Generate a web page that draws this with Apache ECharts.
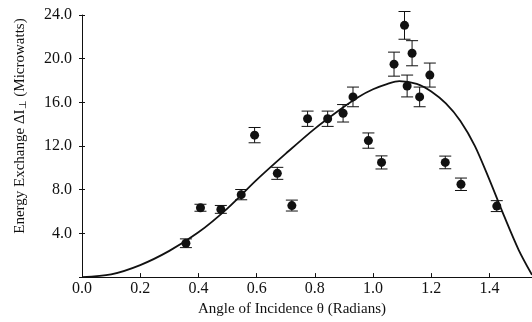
<!DOCTYPE html>
<html>
<head>
<meta charset="utf-8">
<script src="https://cdn.jsdelivr.net/npm/echarts@6/dist/echarts.min.js"></script>
<style>
html,body{margin:0;padding:0;background:#fff;}
#chart{width:532px;height:322px;}
</style>
</head>
<body>
<div id="chart"></div>
<script>
// Measured data points (angle in radians, energy exchange in microwatts, error half-width)
const angles = [0.357,0.407,0.477,0.547,0.593,0.671,0.721,0.775,0.844,0.897,0.931,0.984,1.029,1.072,1.108,1.117,1.134,1.160,1.195,1.248,1.302,1.425];
const values = [3.1,6.35,6.2,7.55,13.0,9.5,6.55,14.5,14.5,15.0,16.5,12.5,10.5,19.5,23.05,17.5,20.5,16.5,18.5,10.5,8.5,6.5];
const errors = [0.4,0.32,0.36,0.47,0.7,0.55,0.5,0.7,0.7,0.8,0.9,0.7,0.6,1.1,1.27,1.0,1.15,0.9,1.1,0.58,0.57,0.5];

// Theoretical curve
const curveX = [0.00,0.10,0.20,0.30,0.40,0.50,0.60,0.70,0.80,0.90,0.95,1.00,1.05,1.09,1.15,1.20,1.25,1.30,1.35,1.40,1.45,1.50,1.546];
const curveY = [0.0,0.25,1.1,2.4,4.1,6.3,8.9,11.3,13.6,15.6,16.5,17.2,17.7,17.95,17.7,17.0,15.9,14.3,12.0,8.9,5.6,2.5,0.2];

// Axis ticks
const xTicks = [0.0,0.2,0.4,0.6,0.8,1.0,1.2,1.4];
const yTicks = [4.0,8.0,12.0,16.0,20.0,24.0];

const FONT = 'Liberation Serif';
const INK = '#111';

const points = angles.map((a,i)=>[a, values[i], errors[i]]);
const curve = curveX.map((x,i)=>[x, curveY[i]]);

const chart = echarts.init(document.getElementById('chart'), null, {renderer:'canvas'});
chart.setOption({
  animation:false,
  backgroundColor:'#fff',
  grid:{left:82, right:0, top:15, bottom:43, containLabel:false},
  xAxis:{
    type:'value', min:0, max:1.546, interval:0.2,
    name:'Angle of Incidence θ (Radians)',
    nameLocation:'middle', nameGap:22,
    nameTextStyle:{fontFamily:FONT, fontSize:15, color:INK, padding:[0,30,0,0]},
    axisLine:{show:true, lineStyle:{color:INK, width:1}},
    axisTick:{show:true, inside:true, length:4, lineStyle:{color:INK}},
    axisLabel:{fontFamily:FONT, fontSize:16, color:INK, margin:4, showMaxLabel:false,
      formatter:v=> xTicks.some(t=>Math.abs(t-v)<1e-6) ? v.toFixed(1) : ''},
    splitLine:{show:false}
  },
  yAxis:[{
    type:'value', min:0, max:24, interval:4,
    name:'{a|Energy Exchange ΔI}{s|⊥}{a| (Microwatts)}',
    nameLocation:'middle', nameGap:54,
    nameTextStyle:{fontFamily:FONT, fontSize:15, color:INK, padding:[0,0,0,40],
      rich:{a:{fontFamily:FONT, fontSize:15, color:INK}, s:{fontFamily:FONT, fontSize:10, color:INK, padding:[6,0,0,0]}}},
    axisLine:{show:true, lineStyle:{color:INK, width:1}},
    axisTick:{show:true, inside:true, length:3, lineStyle:{color:INK}},
    axisLabel:{fontFamily:FONT, fontSize:16, color:INK, margin:10, showMinLabel:false,
      formatter:v=> yTicks.some(t=>Math.abs(t-v)<1e-6) ? v.toFixed(1) : ''},
    splitLine:{show:false}
  },{
    type:'value', min:0, max:24, interval:4, position:'left', offset:0,
    axisLine:{show:false},
    axisTick:{show:true, inside:false, length:3, lineStyle:{color:INK}},
    axisLabel:{show:false},
    splitLine:{show:false}
  }],
  series:[
    {
      type:'line', data:curve, smooth:0.3, symbol:'none',
      lineStyle:{color:INK, width:1.8}, z:2
    },
    {
      type:'custom', data:points, z:3,
      renderItem:function(params, api){
        const x=api.value(0), y=api.value(1), e=api.value(2);
        const t=api.coord([x,y+e]), b=api.coord([x,y-e]);
        const hw=6;
        const st={stroke:INK, lineWidth:1};
        return {type:'group', children:[
          {type:'line', shape:{x1:t[0],y1:t[1],x2:b[0],y2:b[1]}, style:st},
          {type:'line', shape:{x1:t[0]-hw,y1:t[1],x2:t[0]+hw,y2:t[1]}, style:st},
          {type:'line', shape:{x1:b[0]-hw,y1:b[1],x2:b[0]+hw,y2:b[1]}, style:st}
        ]};
      }
    },
    {
      type:'scatter', data:points.map(p=>[p[0],p[1]]), symbol:'circle', symbolSize:9,
      itemStyle:{color:INK, opacity:1}, z:4
    }
  ]
});
</script>
</body>
</html>
